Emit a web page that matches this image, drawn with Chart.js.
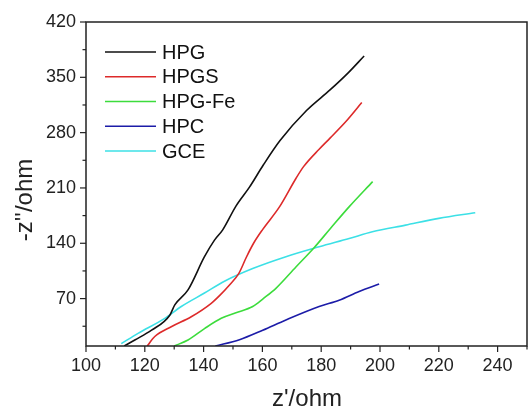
<!DOCTYPE html>
<html>
<head>
<meta charset="utf-8">
<script src="https://cdn.jsdelivr.net/npm/chart.js@4.4.1/dist/chart.umd.min.js"></script>
<style>
  body { margin: 0; background: #fff; }
  canvas { display: block; }
</style>
</head>
<body>
<canvas id="eis" width="528" height="412"></canvas>
<script>
// data
const seriesNames = ['HPG', 'HPGS', 'HPG-Fe', 'HPC', 'GCE'];
const seriesColors = ['#111111', '#dd2a2a', '#3cdc3c', '#1c1ca8', '#3ce0e6'];

const hpgX = [113, 116.6, 122.3, 128.5, 130.2, 134.7, 140.3, 143.7, 146.5, 151, 155.6, 160.3, 166, 175, 183, 189, 194.6];
const hpgY = [10, 17.6, 30, 49, 62, 81, 123, 144, 157, 187, 211, 239, 270, 308, 334, 355, 377];

const hpgsX = [120.8, 123.4, 129, 135.8, 142.6, 145.5, 148.5, 152, 154.5, 157, 160, 165.8, 171.4, 174, 179.3, 183, 188.4, 193.8];
const hpgsY = [10, 22, 34.4, 47, 64, 74, 86, 102, 122, 140, 157, 186, 222, 237, 259, 273, 294, 318];

const hpgFeX = [130, 134.7, 140.3, 146, 151, 156.7, 160.3, 164.6, 171.4, 177.5, 183.2, 189.7, 197.5];
const hpgFeY = [10, 17.6, 32, 45, 52, 60, 70, 83, 110, 134, 159, 187, 218];

const hpcX = [144, 152.2, 160.1, 168, 179.3, 186.1, 192.9, 199.7];
const hpcY = [10, 18, 30, 43, 60, 68, 79, 88.4];

const gceX = [112, 117.7, 126.8, 132.4, 140.3, 147.1, 156.7, 168, 179.3, 189.5, 197.4, 208.7, 220, 232.4];
const gceY = [13, 26, 45, 60, 77, 92, 108, 123, 135.5, 146, 154.5, 163, 171.5, 178.6];

const xTickLabels = [100, 120, 140, 160, 180, 200, 220, 240];
const yTickLabels = [70, 140, 210, 280, 350, 420];

const allX = [hpgX, hpgsX, hpgFeX, hpcX, gceX];
const allY = [hpgY, hpgsY, hpgFeY, hpcY, gceY];

const datasets = seriesNames.map((name, i) => ({
    label: name,
    data: allX[i].map((x, j) => ({ x: x, y: allY[i][j] })),
    borderColor: seriesColors[i],
    borderWidth: 1.6,
    pointRadius: 0,
    showLine: true,
    fill: false,
    cubicInterpolationMode: 'monotone'
}));

// minor ticks halfway between the labelled ones, kept inside [lo, hi]
function withMinor(labels, step, lo, hi) {
    const out = [];
    for (let v = labels[0] - step; v <= labels[labels.length - 1] + step; v += step / 2) {
        if (v >= lo && v <= hi) out.push(v);
    }
    return out;
}

const fontFam = "'Liberation Sans', Arial, sans-serif";

const framePlugin = {
    id: 'frame',
    afterDraw(chart) {
        const ctx = chart.ctx;
        const a = chart.chartArea;
        const xs = chart.scales.x, ys = chart.scales.y;
        ctx.save();
        ctx.strokeStyle = '#222';
        ctx.lineWidth = 1.5;
        ctx.strokeRect(a.left, a.top, a.right - a.left, a.bottom - a.top);

        // tick marks, outward
        ctx.lineWidth = 1.2;
        xs.ticks.forEach(t => {
            const px = xs.getPixelForValue(t.value);
            const len = xTickLabels.includes(t.value) ? 6 : 3.5;
            ctx.beginPath();
            ctx.moveTo(px, a.bottom);
            ctx.lineTo(px, a.bottom + len);
            ctx.stroke();
        });
        ys.ticks.forEach(t => {
            const py = ys.getPixelForValue(t.value);
            const len = yTickLabels.includes(t.value) ? 6 : 3.5;
            ctx.beginPath();
            ctx.moveTo(a.left, py);
            ctx.lineTo(a.left - len, py);
            ctx.stroke();
        });

        // axis titles
        ctx.fillStyle = '#222';
        ctx.font = '24px ' + fontFam;
        ctx.textAlign = 'center';
        ctx.textBaseline = 'middle';
        ctx.fillText("z'/ohm", 307, 399);
        ctx.translate(25, 200);
        ctx.rotate(-Math.PI / 2);
        ctx.fillText("-z''/ohm", 0, 0);
        ctx.restore();

        // legend inside the plot
        ctx.save();
        ctx.font = '20px ' + fontFam;
        ctx.textAlign = 'left';
        ctx.textBaseline = 'middle';
        chart.data.datasets.forEach((ds, i) => {
            const y = 52 + 24.75 * i;
            ctx.strokeStyle = ds.borderColor;
            ctx.lineWidth = 1.6;
            ctx.beginPath();
            ctx.moveTo(105, y);
            ctx.lineTo(156, y);
            ctx.stroke();
            ctx.fillStyle = '#111';
            ctx.fillText(ds.label, 162, y + 1);
        });
        ctx.restore();
    }
};

new Chart(document.getElementById('eis'), {
    type: 'scatter',
    data: { datasets: datasets },
    options: {
        responsive: false,
        animation: false,
        layout: { padding: { top: 22, right: 1, left: 0, bottom: 0 } },
        plugins: { legend: { display: false }, tooltip: { enabled: false } },
        scales: {
            x: {
                type: 'linear',
                min: 100,
                max: 250,
                grid: { display: false, drawTicks: false },
                border: { display: false },
                afterBuildTicks: s => { s.ticks = withMinor(xTickLabels, 20, 100, 250).map(v => ({ value: v })); },
                afterFit: s => { s.height = 66; s.paddingLeft = 0; s.paddingRight = 0; },
                ticks: {
                    autoSkip: false,
                    maxRotation: 0,
                    padding: 9,
                    color: '#222',
                    font: { family: fontFam, size: 18 },
                    callback: v => xTickLabels.includes(v) ? String(v) : ''
                }
            },
            y: {
                type: 'linear',
                min: 10,
                max: 420,
                grid: { display: false, drawTicks: false },
                border: { display: false },
                afterBuildTicks: s => { s.ticks = withMinor(yTickLabels, 70, 11, 420).map(v => ({ value: v })); },
                afterFit: s => { s.width = 86; s.paddingTop = 0; s.paddingBottom = 0; },
                ticks: {
                    autoSkip: false,
                    padding: 10,
                    color: '#222',
                    font: { family: fontFam, size: 18 },
                    callback: v => yTickLabels.includes(v) ? String(v) : ''
                }
            }
        }
    },
    plugins: [framePlugin]
});
</script>
</body>
</html>
